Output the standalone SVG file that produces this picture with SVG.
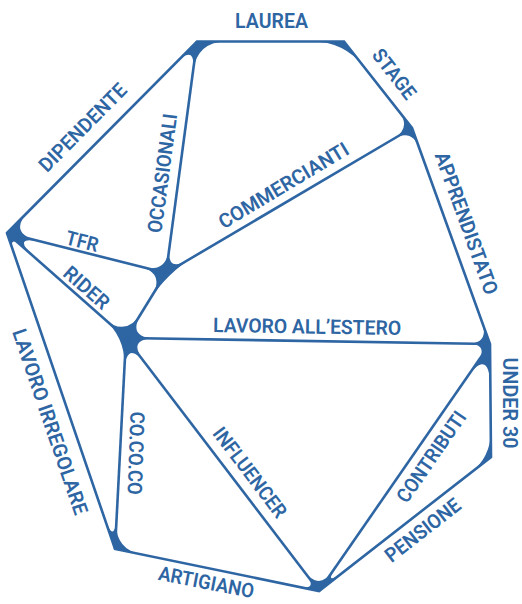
<svg xmlns="http://www.w3.org/2000/svg" width="522" height="604" viewBox="0 0 522 604">
<style>
.bg{fill:#2e65a3}
.face{fill:#ffffff}
.ln{stroke:#2e65a3;stroke-width:2.6;fill:none;stroke-linejoin:miter}
.lb{font-family:Roboto,"Liberation Sans",sans-serif;font-weight:600;font-size:20px;fill:#2e65a3;text-anchor:middle}
</style>
<g id="junctions">
<polygon class="bg" points="7,233 197,41.5 344,41.5 412,128 490,344 491,457 319,591 115,549"/>
</g>
<g id="faces">
<path id="f-dipendente" class="face" d="M29.53,210.29 L174.47,64.21 Q197,41.5 192.75,73.21 L169.18,249.22 Q166,273 142.72,267.14 L38.03,240.81 Q7,233 29.53,210.29 Z"/>
<path id="f-laurea" class="face" d="M227,41.5 L312,41.5 Q344,41.5 363.78,66.65 L398.4,110.71 Q412,128 393.05,139.17 L188.4,259.8 Q166,273 169.45,247.23 L193.02,71.23 Q197,41.5 227,41.5 Z"/>
<path id="f-apprendistato" class="face" d="M197.01,254.72 L393.05,139.17 Q412,128 419.47,148.69 L481.85,321.43 Q490,344 466,343.6 L156,338.5 Q126,338 141.73,312.44 L147.13,303.67 Q166,273 197.01,254.72 Z"/>
<path id="f-rider" class="face" d="M45.79,242.76 L138.85,266.17 Q166,273 151.32,296.85 L141.73,312.44 Q126,338 103.51,318.15 L36.99,259.46 Q7,233 45.79,242.76 Z"/>
<path id="f-irregolare" class="face" d="M23.5,247.56 L103.51,318.15 Q126,338 124.44,367.96 L116.88,513.05 Q115,549 103.36,514.93 L14.11,253.82 Q7,233 23.5,247.56 Z"/>
<path id="f-artigiano" class="face" d="M146.62,365.03 L305.66,573.51 Q319,591 297.45,586.56 L141.44,554.44 Q115,549 116.41,522.04 L124.23,371.95 Q126,338 146.62,365.03 Z"/>
<path id="f-influencer" class="face" d="M156,338.5 L467,343.62 Q490,344 476.91,362.91 L333.23,570.44 Q319,591 303.84,571.12 L144.2,361.85 Q126,338 156,338.5 Z"/>
<path id="f-pensione" class="face" d="M490.4,389 L490.77,431 Q491,457 470.49,472.98 L347.4,568.87 Q319,591 339.49,561.4 L464.39,381 Q490,344 490.4,389 Z"/>
</g>
<g id="connectors">
<polygon class="ln" points="7,233 197,41.5 344,41.5 412,128 490,344 491,457 319,591 115,549"/>
<line class="ln" x1="197" y1="41.5" x2="166" y2="273"/>
<line class="ln" x1="166" y1="273" x2="412" y2="128"/>
<line class="ln" x1="7" y1="233" x2="166" y2="273"/>
<line class="ln" x1="166" y1="273" x2="126" y2="338"/>
<line class="ln" x1="7" y1="233" x2="126" y2="338"/>
<line class="ln" x1="126" y1="338" x2="490" y2="344"/>
<line class="ln" x1="126" y1="338" x2="115" y2="549"/>
<line class="ln" x1="126" y1="338" x2="319" y2="591"/>
<line class="ln" x1="490" y1="344" x2="319" y2="591"/>
</g>
<g id="labels">
<text class="lb" transform="translate(271.5,28)" textLength="73" lengthAdjust="spacingAndGlyphs">LAUREA</text>
<text class="lb" transform="translate(388.8,78.2) rotate(52)" textLength="58" lengthAdjust="spacingAndGlyphs">STAGE</text>
<text class="lb" transform="translate(460,225.5) rotate(70.1)" textLength="150" lengthAdjust="spacingAndGlyphs">APPRENDISTATO</text>
<text class="lb" transform="translate(503,403) rotate(90)" textLength="91" lengthAdjust="spacingAndGlyphs">UNDER 30</text>
<text class="lb" transform="translate(427,535.6) rotate(-37.9)" textLength="90" lengthAdjust="spacingAndGlyphs">PENSIONE</text>
<text class="lb" transform="translate(437,460.6) rotate(-55.3)" textLength="106" lengthAdjust="spacingAndGlyphs">CONTRIBUTI</text>
<text class="lb" transform="translate(244.5,476.7) rotate(52.7)" textLength="108" lengthAdjust="spacingAndGlyphs">INFLUENCER</text>
<text class="lb" transform="translate(205,589) rotate(11)" textLength="97" lengthAdjust="spacingAndGlyphs">ARTIGIANO</text>
<text class="lb" transform="translate(129,453) rotate(92)" textLength="83" lengthAdjust="spacingAndGlyphs">CO.CO.CO</text>
<text class="lb" transform="translate(43.5,424) rotate(71.1)" textLength="195" lengthAdjust="spacingAndGlyphs">LAVORO IRREGOLARE</text>
<text class="lb" transform="translate(82,292.9) rotate(41.4)" textLength="54" lengthAdjust="spacingAndGlyphs">RIDER</text>
<text class="lb" transform="translate(80.5,248.1) rotate(14.1)" textLength="33" lengthAdjust="spacingAndGlyphs">TFR</text>
<text class="lb" transform="translate(169.3,174.1) rotate(-82.4)" textLength="120" lengthAdjust="spacingAndGlyphs">OCCASIONALI</text>
<text class="lb" transform="translate(287.2,191.4) rotate(-31)" textLength="148" lengthAdjust="spacingAndGlyphs">COMMERCIANTI</text>
<text class="lb" transform="translate(307,333.5) rotate(0.9)" textLength="188" lengthAdjust="spacingAndGlyphs">LAVORO ALL’ESTERO</text>
<text class="lb" transform="translate(87.6,132.4) rotate(-45.2)" textLength="115" lengthAdjust="spacingAndGlyphs">DIPENDENTE</text>
</g>
</svg>
